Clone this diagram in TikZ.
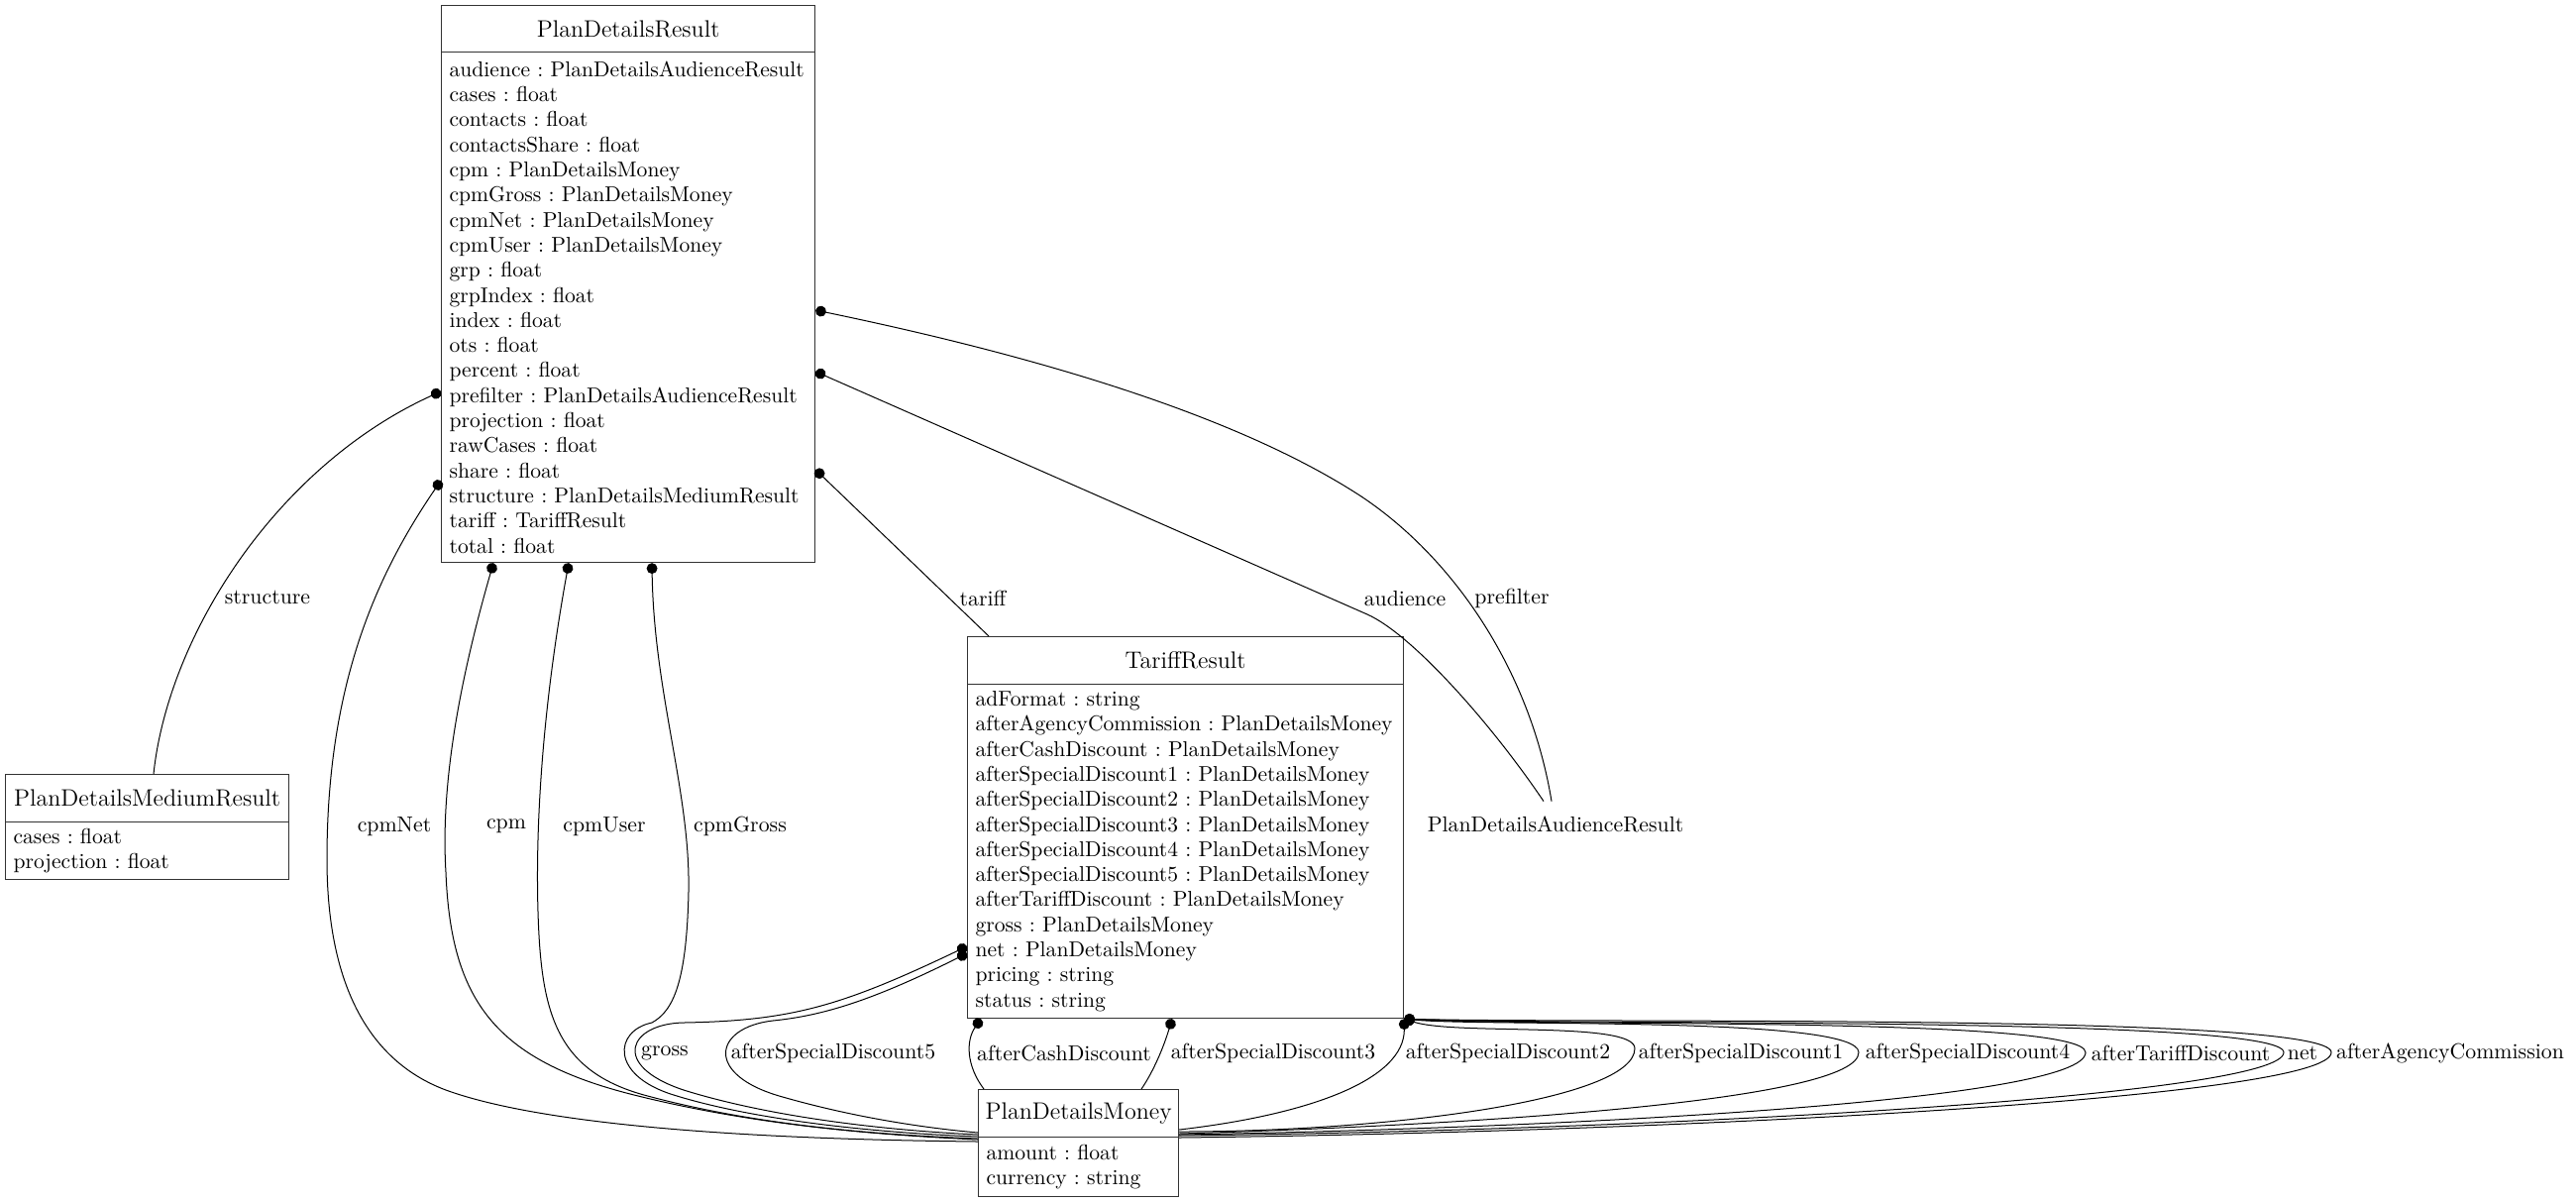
\documentclass[tikz,border=0pt]{standalone}
\usetikzlibrary{arrows.meta}
\frenchspacing
\hyphenpenalty=10000
\begin{document}
\begin{tikzpicture}
[
 x=0.5pt, y=-0.5pt,
 every node/.style ={inner sep=0pt},
 Head/.style={rectangle, draw=black!80, line width=0.6pt, anchor=north west, font=\fontsize{12}{14}\selectfont},
 Body/.style={rectangle, draw=black!80, line width=0.6pt, anchor=north west, align=left, inner xsep=4pt, inner ysep=0pt, font=\fontsize{10.8}{12.65}\selectfont},
 Lbl/.style={font=\fontsize{10.9}{13}\selectfont},
 Ref/.style={line width=0.5pt, arrows={Circle[length=5.4pt]-}},
 ],
 %
\useasboundingbox (0,0) rectangle (2600,1212);
%
\node [Head, minimum width=188.5pt, minimum height=23.5pt] (pdr)  at (445,5)  {PlanDetailsResult};
\node [Body, text width=180.5pt, minimum height=257.5pt] (pdrA) at (445,52) {audience : PlanDetailsAudienceResult\\ cases : float\\ contacts : float\\ contactsShare : float\\ cpm : PlanDetailsMoney\\ cpmGross : PlanDetailsMoney\\ cpmNet : PlanDetailsMoney\\ cpmUser : PlanDetailsMoney\\ grp : float\\ grpIndex : float\\ index : float\\ ots : float\\ percent : float\\ prefilter : PlanDetailsAudienceResult\\ projection : float\\ rawCases : float\\ share : float\\ structure : PlanDetailsMediumResult\\ tariff : TariffResult\\ total : float};
%
\node [Head, minimum width=220pt, minimum height=24pt] (tr)  at (976,642)  {TariffResult};
\node [Body, text width=212pt, minimum height=168.5pt] (trA) at (976,690) {adFormat : string\\ afterAgencyCommission : PlanDetailsMoney\\ afterCashDiscount : PlanDetailsMoney\\ afterSpecialDiscount1 : PlanDetailsMoney\\ afterSpecialDiscount2 : PlanDetailsMoney\\ afterSpecialDiscount3 : PlanDetailsMoney\\ afterSpecialDiscount4 : PlanDetailsMoney\\ afterSpecialDiscount5 : PlanDetailsMoney\\ afterTariffDiscount : PlanDetailsMoney\\ gross : PlanDetailsMoney\\ net : PlanDetailsMoney\\ pricing : string\\ status : string};
%
\node [Head, minimum width=143pt, minimum height=24pt] (pdmr)  at (5,781)  {PlanDetailsMediumResult};
\node [Body, text width=135pt, minimum height=29pt] (pdmrA) at (5,829) {cases : float\\ projection : float};
%
\node [Head, minimum width=101pt, minimum height=24pt] (pdm)  at (987,1099)  {PlanDetailsMoney};
\node [Body, text width=93pt, minimum height=30pt] (pdmA) at (987,1147) {amount : float\\ currency : string};
%
\node [Lbl, minimum height=23pt] (pdar) at (1570,832) {PlanDetailsAudienceResult};
%
\node [Lbl] (lStructure) at (270,603)  {structure};
\node [Lbl] (lTariff)    at (992,604)  {tariff};
\node [Lbl] (lAudience)  at (1418,604) {audience};
\node [Lbl] (lPrefilter) at (1526,604) {prefilter};
\node [Lbl] (lCpmNet)    at (398,834)  {cpmNet};
\node [Lbl] (lCpm)       at (511,834)  {cpm};
\node [Lbl] (lCpmUser)   at (610,834)  {cpmUser};
\node [Lbl] (lCpmGross)  at (747,834)  {cpmGross};
\node [Lbl] (lGross)     at (671,1063) {gross};
\node [Lbl] (lSD5)       at (841,1063) {afterSpecialDiscount5};
\node [Lbl] (lCash)      at (1074,1063) {afterCashDiscount};
\node [Lbl] (lSD3)       at (1285,1063) {afterSpecialDiscount3};
\node [Lbl] (lSD2)       at (1522,1063) {afterSpecialDiscount2};
\node [Lbl] (lSD1)       at (1757,1063) {afterSpecialDiscount1};
\node [Lbl] (lSD4)       at (1986,1063) {afterSpecialDiscount4};
\node [Lbl] (lTariffD)   at (2201,1063) {afterTariffDiscount};
\node [Lbl] (lNet)       at (2324,1063) {net};
\node [Lbl] (lAgency)    at (2473,1063) {afterAgencyCommission};
%
\draw [Ref] ([yshift=-171.5pt]pdrA.north west) .. controls (280,470) and (170,640) .. ([xshift=75pt]pdmr.north west);
\draw [Ref] ([yshift=-211pt]pdrA.north east) -- ([xshift=11pt]tr.north west);
\draw [Ref] ([yshift=-161.5pt]pdrA.north east) -- (1380,620) .. controls (1425,640) and (1505,730) .. ([xshift=-6pt]pdar.north);
\draw [Ref] ([yshift=-130.5pt]pdrA.north east) .. controls (1050,360) and (1250,420) .. (1374,501) .. controls (1470,565) and (1545,680) .. ([xshift=-2pt]pdar.north);
%
\draw [Ref] ([yshift=-216.5pt]pdrA.north west) .. controls (380,580) and (330,690) .. (330,867) .. controls (330,990) and (370,1070) .. (450,1100) .. controls (560,1140) and (800,1150) .. ([yshift=-2.5pt]pdmA.north west);
\draw [Ref] ([xshift=26.5pt]pdrA.south west) .. controls (460,700) and (445,800) .. (450,880) .. controls (455,1010) and (500,1070) .. (640,1105) .. controls (760,1135) and (880,1145) .. ([yshift=-1.5pt]pdmA.north west);
\draw [Ref] ([xshift=64.5pt]pdrA.south west) .. controls (550,700) and (540,820) .. (543,920) .. controls (546,1020) and (560,1080) .. (650,1105) .. controls (760,1135) and (880,1145) .. ([yshift=-1pt]pdmA.north west);
\draw [Ref] ([xshift=106.5pt]pdrA.south west) .. controls (660,700) and (697,800) .. (695,900) .. controls (693,990) and (680,1020) .. (658,1032) .. controls (620,1040) and (615,1085) .. (680,1105) .. controls (760,1130) and (880,1143) .. (pdmA.north west);
%
\draw [Ref] ([yshift=-132.5pt]trA.north west) .. controls (850,1015) and (800,1030) .. (690,1032) .. controls (635,1033) and (615,1075) .. (690,1100) .. controls (770,1125) and (880,1140) .. ([yshift=1pt]pdmA.north west);
\draw [Ref] ([yshift=-136pt]trA.north west) .. controls (880,1010) and (830,1025) .. (780,1030) .. controls (720,1037) and (710,1085) .. (790,1107) .. controls (860,1127) and (930,1138) .. ([yshift=2pt]pdmA.north west);
\draw [Ref] ([xshift=7pt]trA.south west) .. controls (975,1050) and (975,1075) .. ([xshift=3pt]pdm.north west);
\draw [Ref] ([xshift=103.5pt]trA.south west) .. controls (1175,1055) and (1165,1080) .. ([xshift=82.5pt]pdm.north west);
\draw [Ref] (trA.south east) .. controls (1418,1090) and (1320,1125) .. ([yshift=3.5pt]pdmA.north east);
%
\draw [Ref] (trA.south east) .. controls (1470,1045) and (1650,1030) .. (1650,1058) .. controls (1650,1110) and (1400,1142) .. ([yshift=2.5pt]pdmA.north east);
\draw [Ref] (trA.south east) .. controls (1500,1036) and (1876,1025) .. (1876,1062) .. controls (1876,1110) and (1500,1135) .. ([yshift=1.5pt]pdmA.north east);
\draw [Ref] (trA.south east) .. controls (1550,1036) and (2105,1025) .. (2105,1062) .. controls (2105,1110) and (1600,1138) .. ([yshift=1pt]pdmA.north east);
\draw [Ref] (trA.south east) .. controls (1600,1035) and (2305,1025) .. (2305,1062) .. controls (2305,1105) and (1700,1140) .. ([yshift=0.5pt]pdmA.north east);
\draw [Ref] (trA.south east) .. controls (1600,1033) and (2353,1022) .. (2353,1062) .. controls (2353,1108) and (1700,1142) .. ([yshift=-0.5pt]pdmA.north east);
%
\end{tikzpicture}
\end{document}
